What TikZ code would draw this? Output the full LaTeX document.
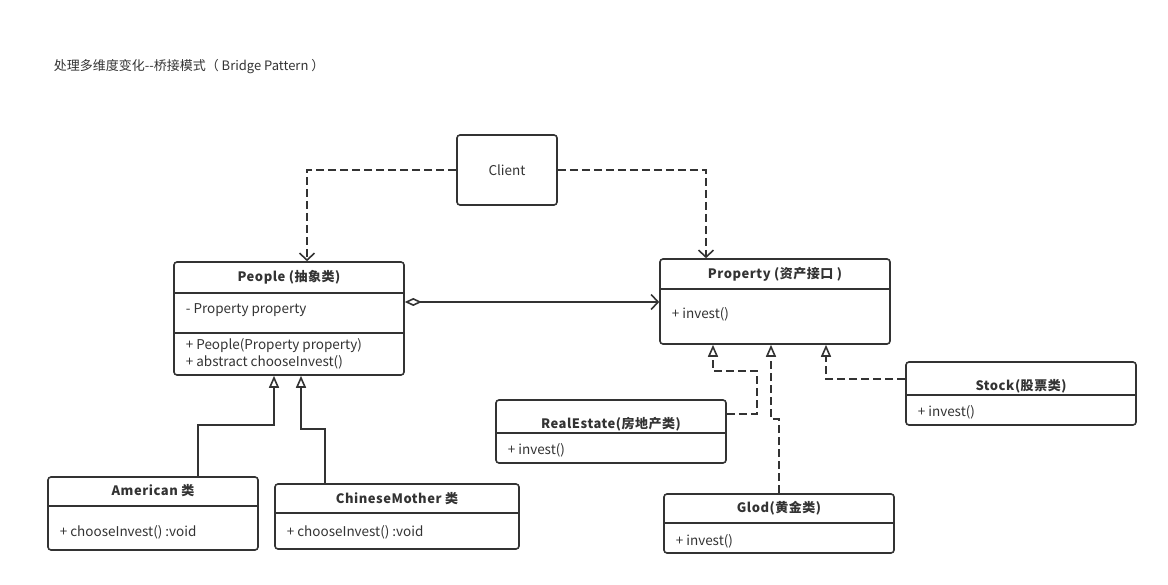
\documentclass[tikz,border=0pt]{standalone}
\usepackage{fontspec}
\setmainfont{Noto Sans CJK SC}
\usetikzlibrary{arrows.meta}
\usetikzlibrary{positioning}
\definecolor{ink}{RGB}{51,51,51}

\begin{document}
\begin{tikzpicture}[x=1pt,y=-1pt,line width=1.6pt,
  every node/.style={text=ink,font=\fontsize{13.5}{15}\selectfont},
  class/.style={draw=ink,rounded corners=3pt,inner sep=0pt},
  title/.style={inner sep=0pt,font=\fontsize{13}{15}\selectfont\bfseries\addfontfeatures{LetterSpace=4}},
  member/.style={anchor=west,inner sep=0pt},
  dep/.style={draw=ink,dash pattern=on 8pt off 4pt,-{Straight Barb[length=7pt,width=15pt]}},
  gen/.style={draw=ink,-{Triangle[open,length=12pt,width=10pt,fill=white]}},
  realize/.style={gen,dash pattern=on 8pt off 4pt}]
  \useasboundingbox (0,0) rectangle (1168,585);

  \node[anchor=west,inner sep=0pt,font=\fontsize{13}{15}\selectfont] (heading) at (53,67) {处理多维度变化-{}-桥接模式（ Bridge Pattern ）};

  \node[class,minimum width=100,minimum height=70] (client) at (507,170) {Client};

  \node[class,minimum width=230,minimum height=113] (people) at (289,318.5) {};
  \node[title] (peopletitle) at (289,277) {People (抽象类)};
  \node[member] (peopleattr) at (185,310) {- Property property};
  \node[member] (peopleop1) at (185,346) {+ People(Property property)};
  \node[member] (peopleop2) at (185,362) {+ abstract chooseInvest()};
  \draw[ink] (174,293) -- (404,293);
  \draw[ink] (174,333) -- (404,333);

  \node[class,minimum width=230,minimum height=85] (prop) at (775,301.5) {};
  \node[title] (proptitle) at (775,274) {Property (资产接口 )};
  \node[member] (propop) at (671,314) {+ invest()};
  \draw[ink] (660,289) -- (890,289);

  \node[class,minimum width=230,minimum height=63] (realestate) at (611,431.5) {};
  \node[title] (realestatetitle) at (611,424) {RealEstate(房地产类)};
  \node[member] (realestateop) at (507,450) {+ invest()};
  \draw[ink] (496,433) -- (726,433);

  \node[class,minimum width=230,minimum height=63] (stock) at (1021,393.5) {};
  \node[title] (stocktitle) at (1021,386) {Stock(股票类)};
  \node[member] (stockop) at (917,412) {+ invest()};
  \draw[ink] (906,395) -- (1136,395);

  \node[class,minimum width=230,minimum height=59] (glod) at (779,523.5) {};
  \node[title] (glodtitle) at (779,508) {Glod(黄金类)};
  \node[member] (glodop) at (675,541) {+ invest()};
  \draw[ink] (664,523) -- (894,523);

  \node[class,minimum width=210,minimum height=73] (american) at (153,513.5) {};
  \node[title] (americantitle) at (153,491) {American 类};
  \node[member] (americanop) at (59,532) {+ chooseInvest() :void};
  \draw[ink] (48,506) -- (258,506);

  \node[class,minimum width=244,minimum height=65] (chinese) at (397,516.5) {};
  \node[title] (chinesetitle) at (397,499) {ChineseMother 类};
  \node[member] (chineseop) at (286,532) {+ chooseInvest() :void};
  \draw[ink] (275,513) -- (519,513);

  \draw[dep] (client.west) -| ([xshift=18pt]people.north);
  \draw[dep] (client.east) -| ([xshift=-69pt]prop.north);
  \draw[draw=ink,{Diamond[open,length=17pt,width=8pt,fill=white]}-{Straight Barb[length=7pt,width=15pt]}]
    ([yshift=16.5pt]people.east) -- ([yshift=16.5pt]people.east -| prop.west);

  \draw[gen] ([xshift=45pt]american.north) -- ++(0,-51) -| ([xshift=-15pt]people.south);
  \draw[gen] ([xshift=-72pt]chinese.north) -- ++(0,-54) -| ([xshift=12pt]people.south);

  \draw[realize] ([yshift=17.5pt]realestate.east) -- ++(30,0) -- ++(0,-43) -| ([xshift=-62pt]prop.south);
  \draw[realize] (glod.north) -- ++(0,-74) -| ([xshift=-4pt]prop.south);
  \draw[realize] ([yshift=14.5pt]stock.west) -| ([xshift=51pt]prop.south);
\end{tikzpicture}
\end{document}
